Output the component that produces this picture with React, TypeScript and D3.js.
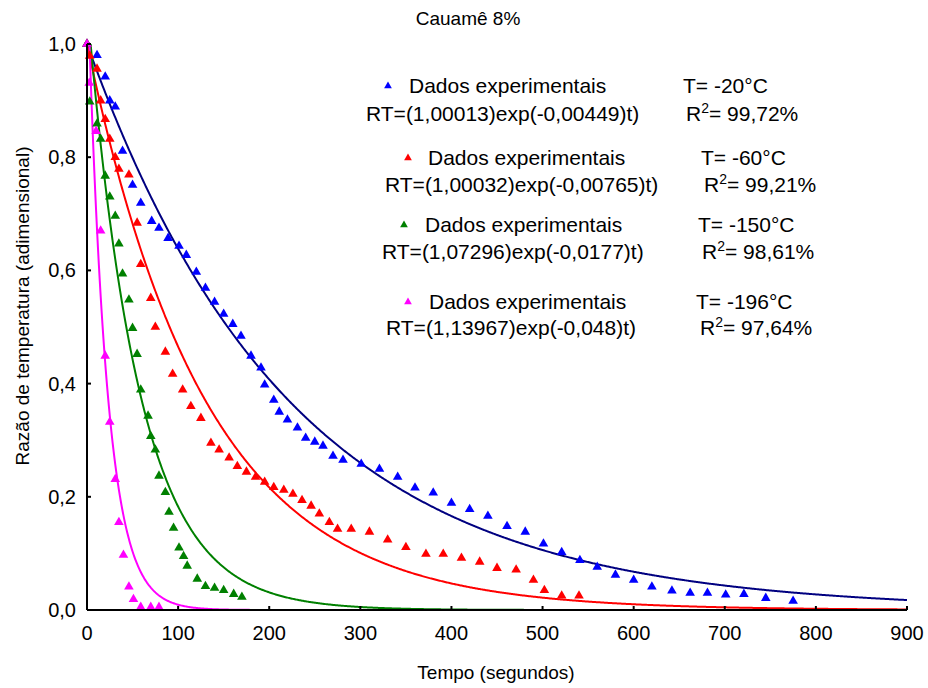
import React from "react";
import * as d3 from "d3";

const title = "Cauamê 8%";
const xLabel = "Tempo (segundos)";
const yLabel = "Razão de temperatura (adimensional)";
const xTicks = [0, 100, 200, 300, 400, 500, 600, 700, 800, 900];
const yTicks = [0, 0.2, 0.4, 0.6, 0.8, 1.0];

// experimental data [t (s), RT]
const blue20: [number, number][] = [
  [0, 1.0], [11, 0.98], [20, 0.942], [25, 0.9], [31, 0.889], [39, 0.811], [50, 0.751], [59, 0.719],
  [71, 0.687], [79, 0.675], [89, 0.657], [101, 0.643], [109, 0.627], [120, 0.597], [130, 0.569],
  [140, 0.544], [150, 0.523], [160, 0.505], [169, 0.484], [180, 0.449], [191, 0.428], [195, 0.398],
  [205, 0.371], [211, 0.35], [220, 0.336], [231, 0.322], [240, 0.304], [250, 0.297], [259, 0.29],
  [270, 0.272], [281, 0.265], [301, 0.258], [321, 0.249], [341, 0.235], [360, 0.216], [380, 0.207],
  [400, 0.189], [420, 0.178], [440, 0.166], [461, 0.148], [481, 0.138], [501, 0.117], [521, 0.102],
  [541, 0.088], [560, 0.076], [580, 0.062], [600, 0.053], [620, 0.041], [642, 0.034], [662, 0.03],
  [681, 0.03], [701, 0.027], [721, 0.028], [745, 0.021], [775, 0.016],
];
const red60: [number, number][] = [
  [0, 1.0], [3, 0.979], [11, 0.956], [15, 0.9], [20, 0.867], [25, 0.832], [31, 0.8], [35, 0.779],
  [46, 0.769], [55, 0.684], [59, 0.611], [70, 0.551], [75, 0.5], [86, 0.456], [94, 0.417],
  [105, 0.389], [114, 0.36], [125, 0.339], [136, 0.295], [145, 0.283], [156, 0.269], [165, 0.254],
  [175, 0.244], [185, 0.235], [195, 0.226], [205, 0.217], [216, 0.212], [226, 0.205], [236, 0.194],
  [246, 0.184], [255, 0.17], [266, 0.155], [275, 0.143], [290, 0.143], [310, 0.138], [330, 0.124],
  [350, 0.111], [372, 0.099], [391, 0.099], [411, 0.092], [431, 0.085], [450, 0.074], [471, 0.071],
  [490, 0.053], [502, 0.035], [521, 0.025], [540, 0.025],
];
const green150: [number, number][] = [
  [0, 1.0], [3, 0.898], [11, 0.859], [15, 0.832], [20, 0.767], [25, 0.73], [31, 0.696], [35, 0.647],
  [39, 0.594], [46, 0.548], [50, 0.498], [55, 0.452], [59, 0.389], [67, 0.343], [70, 0.307],
  [75, 0.283], [79, 0.237], [86, 0.208], [90, 0.173], [95, 0.145], [101, 0.11], [106, 0.095],
  [110, 0.078], [121, 0.055], [130, 0.042], [140, 0.039], [150, 0.035], [161, 0.028], [170, 0.023],
];
const magenta196: [number, number][] = [
  [0, 1.0], [2.5, 0.931], [10, 0.846], [15, 0.67], [20, 0.449], [25, 0.332], [31, 0.231],
  [35, 0.155], [40, 0.097], [46, 0.041], [51, 0.019], [59, 0.005], [70, 0.005], [79, 0.005],
];

// fitted model RT = a * exp(-k t)
const fitA = [1.00013, 1.00032, 1.07296, 1.13967];
const fitK = [0.00449, 0.00765, 0.0177, 0.048];
const temps = ["T= -20°C", "T= -60°C", "T= -150°C", "T= -196°C"];
const eqs = [
  "RT=(1,00013)exp(-0,00449)t)",
  "RT=(1,00032)exp(-0,00765)t)",
  "RT=(1,07296)exp(-0,0177)t)",
  "RT=(1,13967)exp(-0,048)t)",
];
const r2 = ["= 99,72%", "= 99,21%", "= 98,61%", "= 97,64%"];
const markerColors = ["#0000ff", "#ff0000", "#008000", "#ff00ff"];
const lineColors = ["#000080", "#ff0000", "#008000", "#ff00ff"];
const series = [blue20, red60, green150, magenta196];

// legend layout (px)
const legendRows = [
  { my: 86, mx: 388, tx: 409, Tx: 683, ey: 114, ex: 366, rx: 686 },
  { my: 158, mx: 408, tx: 428, Tx: 701, ey: 185, ex: 385, rx: 704 },
  { my: 225, mx: 404, tx: 425, Tx: 698, ey: 252, ex: 382, rx: 702 },
  { my: 302, mx: 408, tx: 429, Tx: 696, ey: 328, ex: 386, rx: 700 },
];

const W = 928;
const H = 688;
const m = { left: 87, right: 907, top: 44, bottom: 610 };
const FONT = "'Liberation Sans', Arial, sans-serif";

export default function App() {
  const x = d3.scaleLinear().domain([0, 900]).range([m.left, m.right]);
  const y = d3.scaleLinear().domain([0, 1]).range([m.bottom, m.top]);
  const tri = d3.symbol().type(d3.symbolTriangle).size(40)();
  const triLeg = d3.symbol().type(d3.symbolTriangle).size(26)();
  const tGrid = d3.range(0, 900.5, 1);

  return (
    <svg width={W} height={H} style={{ position: "absolute", left: 0, top: 0, background: "#fff" }} fontFamily={FONT}>
      <defs>
        <clipPath id="plot">
          <rect x={m.left} y={m.top} width={m.right - m.left + 1} height={m.bottom - m.top} />
        </clipPath>
      </defs>
      <rect x={0} y={0} width={W} height={H} fill="#fff" />
      <text x={468} y={25} fontSize={19} textAnchor="middle">{title}</text>

      {/* fitted curves */}
      <g clipPath="url(#plot)">
        {fitA.map((a, i) => {
          const k = fitK[i];
          const path = d3
            .line<number>()
            .x((t) => x(t))
            .y((t) => y(Math.min(a * Math.exp(-k * t), 1.05)))(tGrid);
          return <path key={i} d={path || ""} fill="none" stroke={lineColors[i]} strokeWidth={2} />;
        })}
      </g>

      {/* experimental points */}
      {series.map((s, i) => (
        <g key={i} fill={markerColors[i]}>
          {s.map((d, j) => (
            <path key={j} d={tri || ""} transform={`translate(${x(d[0])},${y(d[1])})`} />
          ))}
        </g>
      ))}

      {/* axes */}
      <line x1={m.left} x2={m.left} y1={m.top} y2={m.bottom} stroke="#000" strokeWidth={2} />
      <line x1={m.left} x2={m.right} y1={m.bottom} y2={m.bottom} stroke="#000" strokeWidth={2} />
      {xTicks.map((t) => (
        <g key={t}>
          <line x1={x(t)} x2={x(t)} y1={m.bottom} y2={m.bottom - 4} stroke="#000" strokeWidth={2} />
          <text x={x(t)} y={640} fontSize={20} textAnchor="middle">{t}</text>
        </g>
      ))}
      {yTicks.map((v) => (
        <g key={v}>
          <line x1={m.left} x2={m.left + 4} y1={y(v)} y2={y(v)} stroke="#000" strokeWidth={2} />
          <text x={76} y={y(v) + 7} fontSize={20} textAnchor="end">{d3.format(".1f")(v).replace(".", ",")}</text>
        </g>
      ))}
      <text x={496} y={679} fontSize={19} textAnchor="middle">{xLabel}</text>
      <text transform={`translate(29,306) rotate(-90)`} fontSize={19} textAnchor="middle">{yLabel}</text>

      {/* legend */}
      {legendRows.map((r, i) => (
        <g key={i} fontSize={21}>
          <path d={triLeg || ""} transform={`translate(${r.mx},${r.my})`} fill={markerColors[i]} />
          <text x={r.tx} y={r.my + 7}>Dados experimentais</text>
          <text x={r.Tx} y={r.my + 7}>{temps[i]}</text>
          <text x={r.ex} y={r.ey + 7}>{eqs[i]}</text>
          <text x={r.rx} y={r.ey + 7}>
            R<tspan fontSize={14} dy={-8}>2</tspan>
            <tspan dy={8}>{r2[i]}</tspan>
          </text>
        </g>
      ))}
    </svg>
  );
}
